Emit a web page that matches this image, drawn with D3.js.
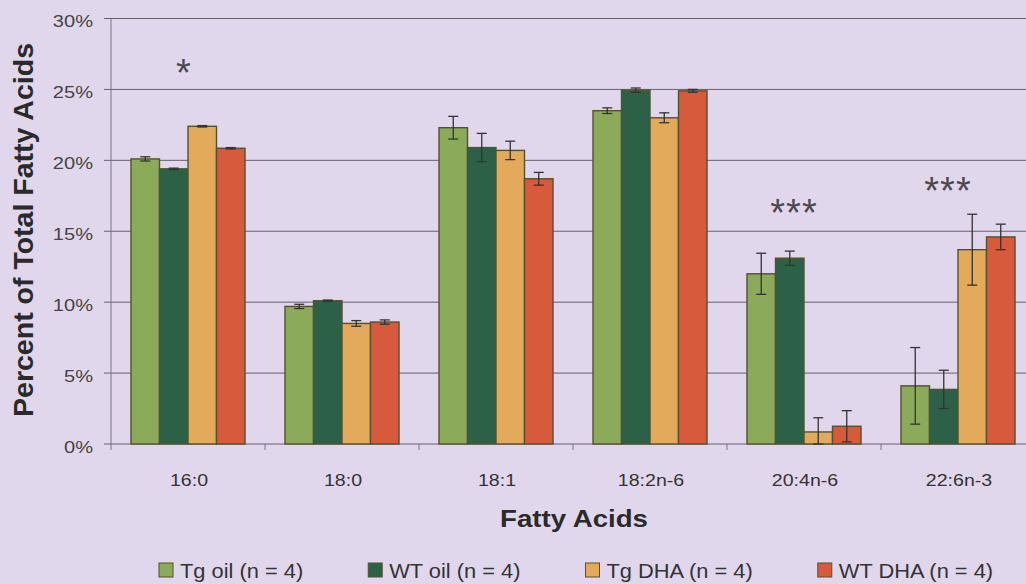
<!DOCTYPE html>
<html>
<head>
<meta charset="utf-8">
<script src="https://cdn.jsdelivr.net/npm/d3@7"></script>
<style>
  html, body { margin: 0; padding: 0; background: #e1d7ec; }
  svg { display: block; }
  text { font-family: "Liberation Sans", Arial, sans-serif; fill: #333; }
</style>
</head>
<body>
<div id="chart"></div>
<script>
// fatty acid composition, % of total
const categories = ["16:0", "18:0", "18:1", "18:2n-6", "20:4n-6", "22:6n-3"];
const seriesNames = ["Tg oil (n = 4)", "WT oil (n = 4)", "Tg DHA (n = 4)", "WT DHA (n = 4)"];

const tgOil    = [20.1, 9.7, 22.3, 23.5, 12.0, 4.1];
const tgOilErr = [0.15, 0.15, 0.8, 0.2, 1.45, 2.7];
const wtOil    = [19.4, 10.1, 20.9, 24.95, 13.1, 3.85];
const wtOilErr = [0.05, 0.05, 1.0, 0.15, 0.5, 1.35];
const tgDha    = [22.4, 8.5, 20.7, 23.0, 0.85, 13.7];
const tgDhaErr = [0.05, 0.2, 0.65, 0.35, 1.0, 2.5];
const wtDha    = [20.85, 8.6, 18.7, 24.9, 1.25, 14.6];
const wtDhaErr = [0.05, 0.15, 0.45, 0.1, 1.1, 0.9];

const yTicks = [0, 5, 10, 15, 20, 25, 30];

// significance marks: category and the level they sit at
const sigCats   = ["16:0", "20:4n-6", "22:6n-3"];
const sigLabels = ["*", "***", "***"];
const sigLevels = [26.8, 16.9, 18.5];

const colors = ["#8bab5b", "#2c6148", "#e3aa5c", "#d85a3c"];

const width = 1026, height = 584;
const svg = d3.select("#chart").append("svg")
    .attr("width", width)
    .attr("height", height);

// stretch text horizontally a bit, the original is a wide scan
function stretch(sel, k) {
  sel.each(function() {
    const w = this.getComputedTextLength();
    d3.select(this).attr("textLength", w * k).attr("lengthAdjust", "spacingAndGlyphs");
  });
}

const x0 = d3.scaleBand().domain(categories).range([111, 1035]);
const x1 = d3.scaleBand().domain(d3.range(4)).range([20, 134]);
const y = d3.scaleLinear().domain([0, 30]).range([444, 18.5]);

// gridlines
svg.append("g")
  .selectAll("line")
  .data(yTicks)
  .join("line")
    .attr("x1", 104)
    .attr("x2", 1035)
    .attr("y1", d => y(d))
    .attr("y2", d => y(d))
    .attr("stroke", "#66606c")
    .attr("stroke-width", 1);

// y axis line
svg.append("line")
    .attr("x1", 111).attr("x2", 111)
    .attr("y1", y(30)).attr("y2", y(0))
    .attr("stroke", "#7a7480");

// x axis ticks at category boundaries
const bounds = categories.map(c => x0(c)).concat([x0.range()[1]]);
svg.append("g")
  .selectAll("line")
  .data(bounds)
  .join("line")
    .attr("x1", d => d).attr("x2", d => d)
    .attr("y1", y(0)).attr("y2", y(0) + 6)
    .attr("stroke", "#7a7480");

// y tick labels
svg.append("g")
  .selectAll("text")
  .data(yTicks)
  .join("text")
    .attr("x", 93)
    .attr("y", d => y(d) + 8.5)
    .attr("text-anchor", "end")
    .style("font-size", "17px")
    .style("fill", "#444")
    .text(d => d + "%")
    .call(stretch, 1.18);

// bars
const series = [
  { vals: tgOil, errs: tgOilErr },
  { vals: wtOil, errs: wtOilErr },
  { vals: tgDha, errs: tgDhaErr },
  { vals: wtDha, errs: wtDhaErr }
];

const barData = [];
categories.forEach((c, ci) => {
  series.forEach((s, si) => {
    barData.push({ cat: c, si: si, v: s.vals[ci], e: s.errs[ci] });
  });
});

svg.append("g")
  .selectAll("rect")
  .data(barData)
  .join("rect")
    .attr("x", d => x0(d.cat) + x1(d.si))
    .attr("y", d => y(d.v))
    .attr("width", x1.bandwidth())
    .attr("height", d => y(0) - y(d.v))
    .attr("fill", d => colors[d.si])
    .attr("stroke", "#55502f")
    .attr("stroke-width", 1.4);

// error bars
const eb = svg.append("g")
  .selectAll("g")
  .data(barData)
  .join("g")
    .attr("stroke", "#333")
    .attr("stroke-width", 1.3);

const cx = d => x0(d.cat) + x1(d.si) + x1.bandwidth() / 2;
eb.append("line")
    .attr("x1", cx).attr("x2", cx)
    .attr("y1", d => y(d.v + d.e)).attr("y2", d => y(Math.max(0, d.v - d.e)));
eb.append("line")
    .attr("x1", d => cx(d) - 5).attr("x2", d => cx(d) + 5)
    .attr("y1", d => y(d.v + d.e)).attr("y2", d => y(d.v + d.e));
eb.append("line")
    .attr("x1", d => cx(d) - 5).attr("x2", d => cx(d) + 5)
    .attr("y1", d => y(Math.max(0, d.v - d.e))).attr("y2", d => y(Math.max(0, d.v - d.e)));

// category labels
svg.append("g")
  .selectAll("text")
  .data(categories)
  .join("text")
    .attr("x", d => x0(d) + x0.bandwidth() / 2 + 1)
    .attr("y", 486)
    .attr("text-anchor", "middle")
    .style("font-size", "17px")
    .text(d => d)
    .call(stretch, 1.15);

// significance asterisks
svg.append("g")
  .selectAll("text")
  .data(sigCats)
  .join("text")
    .attr("x", (d, i) => x0(d) + x0.bandwidth() / 2 + (i === 0 ? -4 : -10))
    .attr("y", (d, i) => y(sigLevels[i]) + 22)
    .attr("text-anchor", "middle")
    .style("font-size", "38px")
    .style("fill", "#4a4a4a")
    .style("letter-spacing", "1px")
    .text((d, i) => sigLabels[i]);

// axis titles
svg.append("text")
    .attr("transform", "translate(33,230) rotate(-90)")
    .attr("text-anchor", "middle")
    .style("font-size", "27px")
    .style("font-weight", "bold")
    .style("fill", "#2a2a2a")
    .attr("textLength", 374)
    .attr("lengthAdjust", "spacingAndGlyphs")
    .text("Percent of Total Fatty Acids");

svg.append("text")
    .attr("x", 574)
    .attr("y", 527)
    .attr("text-anchor", "middle")
    .style("font-size", "24px")
    .style("font-weight", "bold")
    .style("fill", "#2a2a2a")
    .attr("textLength", 148)
    .attr("lengthAdjust", "spacingAndGlyphs")
    .text("Fatty Acids");

// legend
const legend = svg.append("g");
let lx = 159;
seriesNames.forEach((name, i) => {
  legend.append("rect")
      .attr("x", lx).attr("y", 563)
      .attr("width", 14).attr("height", 14)
      .attr("fill", colors[i])
      .attr("stroke", "#55502f")
      .attr("stroke-width", 1);
  const t = legend.append("text")
      .attr("x", lx + 21)
      .attr("y", 578)
      .style("font-size", "19.5px")
      .text(name);
  const w = t.node().getComputedTextLength();
  t.call(stretch, 1.12);
  lx += 21 + w * 1.12 + 65;
});
</script>
</body>
</html>
